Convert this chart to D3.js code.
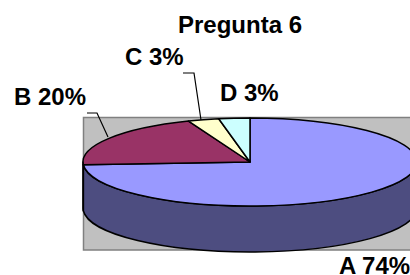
<!DOCTYPE html>
<html>
<head>
<meta charset="utf-8">
<script src="https://cdn.jsdelivr.net/npm/d3@7"></script>
<style>
  body { margin: 0; background: #fff; }
  svg { display: block; }
  text { font-family: "Liberation Sans", Arial, sans-serif; font-weight: bold; font-size: 24px; fill: #000; }
</style>
</head>
<body>
<svg id="draw"></svg>
<script>
// chart data
var categories = ["A", "B", "C", "D"];
var values = [74, 20, 3, 3];
var labels = ["A 74%", "B 20%", "C 3%", "D 3%"];
var topColors = ["#9999FF", "#993366", "#FFFFCC", "#CCFFFF"];
var sideColors = ["#4D4D80", "#4D1A33", "#808066", "#668080"];

var width = 410, height = 275;
var cx = 250, cy = 162, rx = 167, ry = 44, depth = 46;

var svg = d3.select("#draw")
  .attr("width", width)
  .attr("height", height);

// plot area
svg.append("rect")
  .attr("x", 83.5).attr("y", 117.5)
  .attr("width", 340).attr("height", 132.5)
  .attr("fill", "#C0C0C0")
  .attr("stroke", "#808080")
  .attr("stroke-width", 1.5);

svg.append("text")
  .attr("x", 240).attr("y", 33)
  .attr("text-anchor", "middle")
  .text("Pregunta 6");

var data = categories.map(function(c, i) {
  return { name: c, value: values[i], label: labels[i], top: topColors[i], side: sideColors[i] };
});

var pie = d3.pie().value(d => d.value).sort(null);
var arcs = pie(data);

function px(a, dy) { return cx + rx * Math.sin(a); }
function py(a, dy) { return cy - ry * Math.cos(a) + (dy || 0); }

// front side walls (only the part facing the viewer)
var g = svg.append("g");
arcs.forEach(function(d) {
  var a0 = Math.max(d.startAngle, Math.PI / 2);
  var a1 = Math.min(d.endAngle, Math.PI * 3 / 2);
  if (a1 <= a0) return;
  var p = "M" + px(a0) + "," + py(a0) +
    " A" + rx + "," + ry + " 0 0 1 " + px(a1) + "," + py(a1) +
    " L" + px(a1) + "," + py(a1, depth) +
    " A" + rx + "," + ry + " 0 0 0 " + px(a0) + "," + py(a0, depth) + " Z";
  g.append("path")
    .attr("d", p)
    .attr("fill", d.data.side)
    .attr("stroke", "#000")
    .attr("stroke-width", 1.5)
    .attr("stroke-linejoin", "round");
});

// top faces
arcs.forEach(function(d) {
  var large = (d.endAngle - d.startAngle) > Math.PI ? 1 : 0;
  var p = "M" + cx + "," + cy +
    " L" + px(d.startAngle) + "," + py(d.startAngle) +
    " A" + rx + "," + ry + " 0 " + large + " 1 " + px(d.endAngle) + "," + py(d.endAngle) + " Z";
  g.append("path")
    .attr("d", p)
    .attr("fill", d.data.top)
    .attr("stroke", "#000")
    .attr("stroke-width", 1.5)
    .attr("stroke-linejoin", "round");
});

// leader lines
var leaders = [
  [[87, 113], [97, 113], [108, 137]],
  [[183, 73], [194, 73], [201, 120]]
];
leaders.forEach(function(pts) {
  svg.append("path")
    .attr("d", d3.line()(pts))
    .attr("fill", "none")
    .attr("stroke", "#000")
    .attr("stroke-width", 1.2);
});

// labels
var labelPos = { A: [339, 274], B: [14, 105], C: [125, 65], D: [220, 101] };
svg.selectAll(".lbl")
  .data(data)
  .enter().append("text")
  .attr("class", "lbl")
  .attr("x", d => labelPos[d.name][0])
  .attr("y", d => labelPos[d.name][1])
  .text(d => d.label);
</script>
</body>
</html>
